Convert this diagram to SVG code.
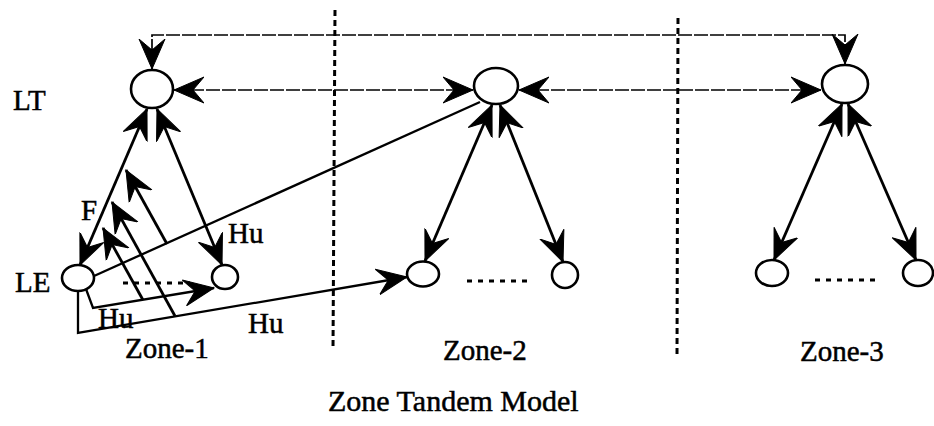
<svg xmlns="http://www.w3.org/2000/svg" width="934" height="426" viewBox="0 0 934 426">
<style>
.node{fill:#fff;stroke:#000;stroke-width:2.6}
.ln{fill:none;stroke:#000;stroke-width:2.8}
.thin{fill:none;stroke:#000;stroke-width:2.3}
.dash{fill:none;stroke:#000;stroke-width:1.7;stroke-dasharray:14 2}
.sep{fill:none;stroke:#000;stroke-width:3;stroke-dasharray:6 4}
.dots{fill:none;stroke:#000;stroke-width:3;stroke-dasharray:5 6}
.t{font-family:"Liberation Serif","Times New Roman",serif;font-size:29px;fill:#000;stroke:#000;stroke-width:0.5}
.title{font-size:30px}
</style>
<defs>
<marker id="ah" markerUnits="userSpaceOnUse" markerWidth="32" markerHeight="28" refX="30" refY="14" orient="auto-start-reverse" viewBox="0 0 32 28">
<path d="M0,1 L30,14 L0,27 L11,14 Z" fill="#000" stroke="#000" stroke-width="1"/>
</marker>
</defs>

<g id="separators">
<line class="sep" x1="335" y1="10" x2="333" y2="350"/>
<line class="sep" x1="678" y1="18" x2="677" y2="358"/>
</g>

<g id="connectors">
<path class="dash" d="M152,69 L152,35 L845,35 L845,64" marker-start="url(#ah)" marker-end="url(#ah)"/>
<line class="dash" x1="174" y1="90" x2="473" y2="90" marker-start="url(#ah)" marker-end="url(#ah)"/>
<line class="dash" x1="519" y1="90" x2="821" y2="90" marker-start="url(#ah)" marker-end="url(#ah)"/>

<line class="ln" x1="147" y1="109" x2="80" y2="265" marker-start="url(#ah)" marker-end="url(#ah)"/>
<line class="ln" x1="157" y1="109" x2="222" y2="265" marker-start="url(#ah)" marker-end="url(#ah)"/>
<line class="ln" x1="492" y1="105" x2="425" y2="261" marker-start="url(#ah)" marker-end="url(#ah)"/>
<line class="ln" x1="500" y1="105" x2="563" y2="262" marker-start="url(#ah)" marker-end="url(#ah)"/>
<line class="ln" x1="842" y1="104" x2="774" y2="260" marker-start="url(#ah)" marker-end="url(#ah)"/>
<line class="ln" x1="848" y1="104" x2="916" y2="260" marker-start="url(#ah)" marker-end="url(#ah)"/>

<line class="thin" x1="94" y1="276" x2="480" y2="102"/>
<polyline class="thin" points="78,291 78,333 407,277" marker-end="url(#ah)"/>
<polyline class="thin" points="86,289 93,308 214,288" marker-end="url(#ah)"/>

<line class="ln" x1="167" y1="244" x2="126" y2="170" marker-end="url(#ah)"/>
<line class="ln" x1="175" y1="316" x2="112" y2="202" marker-end="url(#ah)"/>
<line class="ln" x1="143" y1="300" x2="103" y2="228" marker-end="url(#ah)"/>

<line class="dots" x1="123" y1="283" x2="190" y2="283"/>
<line class="dots" x1="467" y1="281" x2="527" y2="281"/>
<line class="dots" x1="815" y1="280" x2="877" y2="280"/>
</g>

<g id="lt1"><ellipse class="node" cx="152" cy="89" rx="21" ry="19"/></g>
<g id="lt2"><ellipse class="node" cx="496" cy="86" rx="22" ry="18"/></g>
<g id="lt3"><ellipse class="node" cx="845" cy="84" rx="23" ry="19"/></g>
<g id="le1"><ellipse class="node" cx="78" cy="278" rx="16" ry="13"/></g>
<g id="le1b"><ellipse class="node" cx="225" cy="277" rx="13" ry="12"/></g>
<g id="le2a"><ellipse class="node" cx="423" cy="274" rx="16" ry="12.5"/></g>
<g id="le2b"><ellipse class="node" cx="565" cy="275" rx="13" ry="13"/></g>
<g id="le3a"><ellipse class="node" cx="772" cy="273" rx="16" ry="13"/></g>
<g id="le3b"><ellipse class="node" cx="918" cy="273" rx="15" ry="13"/></g>

<g id="labels">
<text class="t" x="13" y="110">LT</text>
<text class="t" x="15" y="292">LE</text>
<text class="t" x="81" y="220">F</text>
<text class="t" x="228" y="243">Hu</text>
<text class="t" x="98" y="328">Hu</text>
<text class="t" x="248" y="333">Hu</text>
<text class="t" x="125" y="358">Zone-1</text>
<text class="t" x="443" y="360">Zone-2</text>
<text class="t" x="800" y="361">Zone-3</text>
<text class="t title" x="328" y="411">Zone Tandem Model</text>
</g>
</svg>
